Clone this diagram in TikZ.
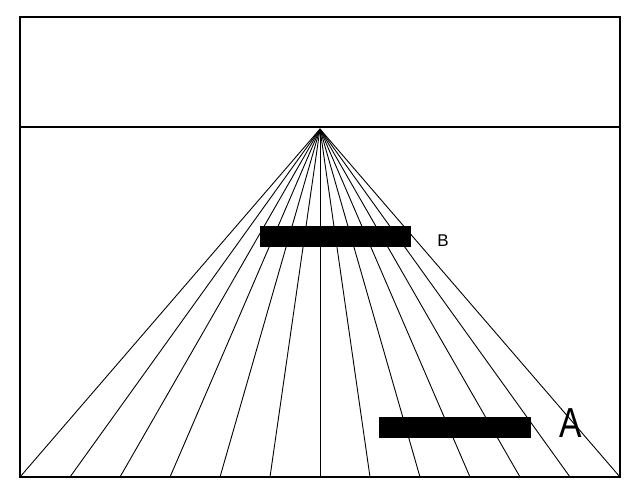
\documentclass[tikz,border=0pt]{standalone}
\usepackage{fontspec}
\setmainfont{Liberation Sans}
\begin{document}
\begin{tikzpicture}[
	x=1pt, y=-1pt,
	frame/.style={draw=black, line width=1.4pt},
	ray/.style={draw=black, line width=0.9pt},
	bar/.style={
		rectangle,
		fill=black,
		inner sep=0pt,
		minimum height=21pt
	},
	tag/.style={inner sep=0pt, font=\fontsize{17}{17}\selectfont}
]
\useasboundingbox (0,0) rectangle (640,499);

% Marco y horizonte
\draw[frame] (20,17) rectangle (620,477);
\coordinate (horL) at (20,127);
\coordinate (horR) at (620,127);
\draw[frame] (horL) -- (horR);

% Punto de fuga y rayos hacia el suelo
\coordinate (vp) at (320,129);
\foreach \i in {0,...,12} {
	\coordinate (g\i) at (20+50*\i,477);
	\draw[ray] (vp) -- (g\i);
}

% Barras
\node[bar, minimum width=151pt] (barB) at (335.5,236.5) {};
\node[bar, minimum width=152pt] (barA) at (455,427.5) {};

% Rótulos
\node[tag] (labB) at (443,241) {B};
\node[tag, font=\fontsize{42}{42}\selectfont] (labA) at (571,423) {\scalebox{0.8}[1]{A}};

\end{tikzpicture}
\end{document}
